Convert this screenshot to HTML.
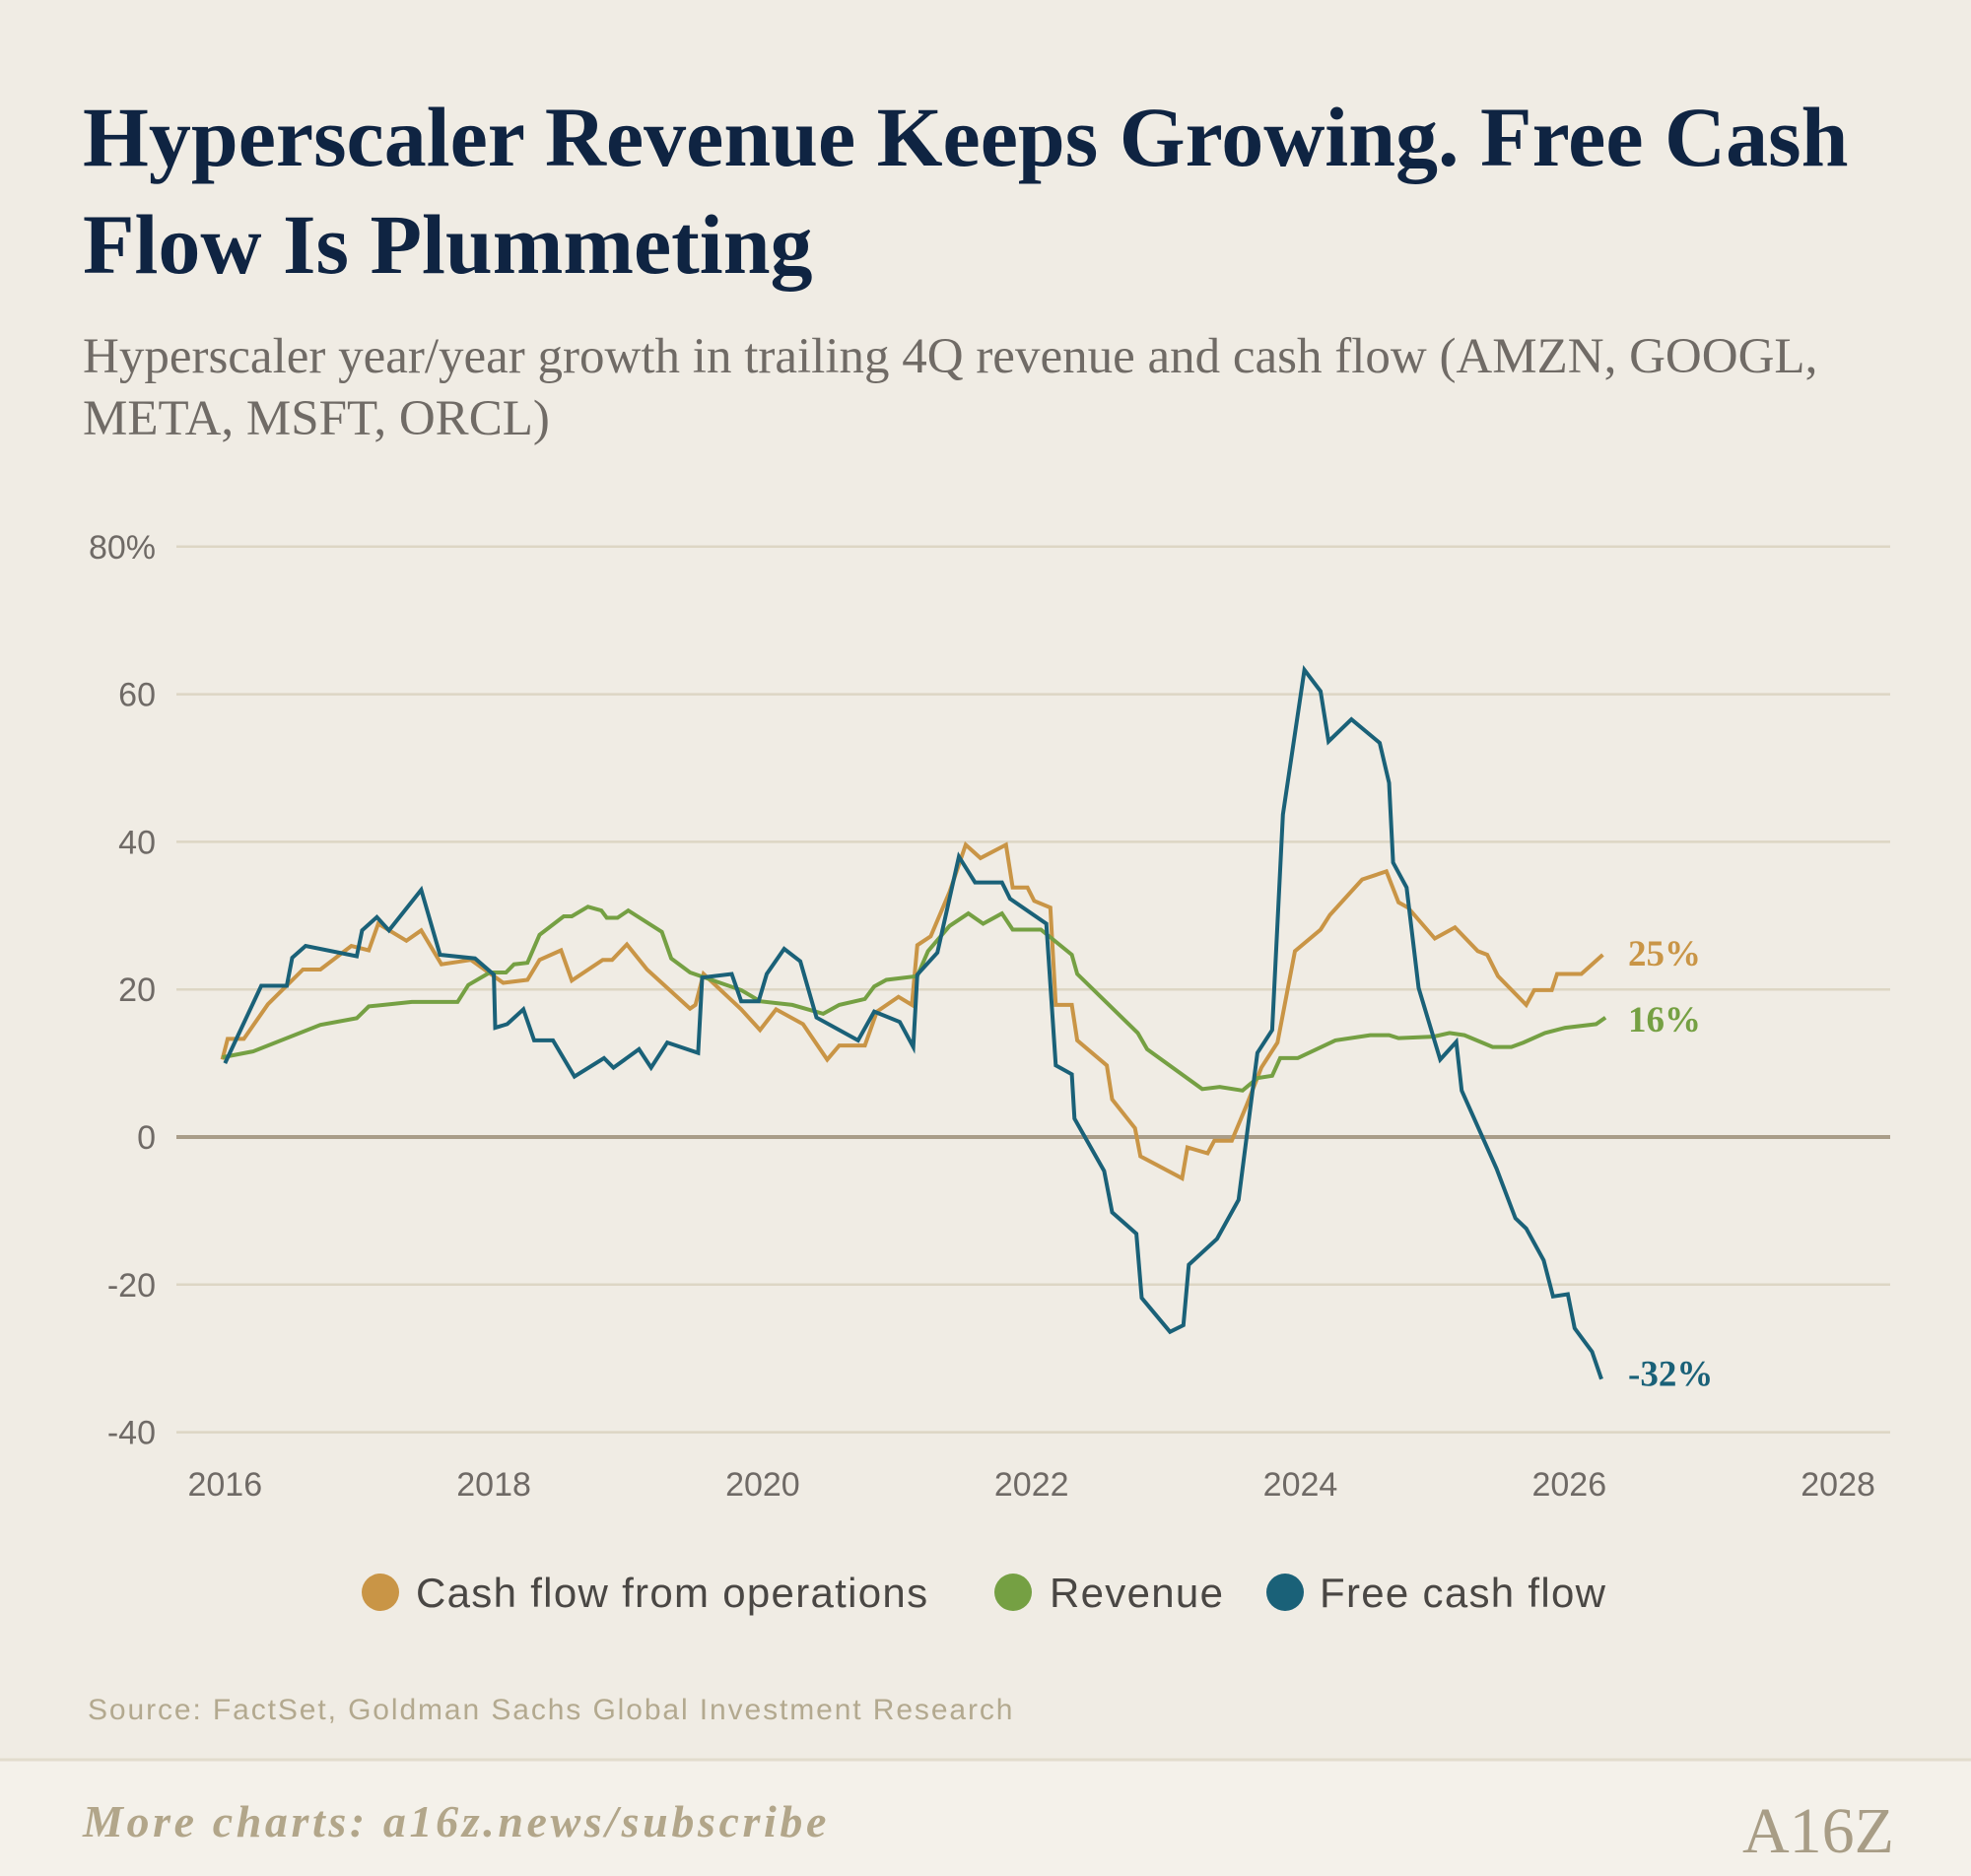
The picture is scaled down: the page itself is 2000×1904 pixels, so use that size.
<!DOCTYPE html>
<html><head><meta charset="utf-8">
<style>
html,body{margin:0;padding:0;background:#f0ece4;}
svg{display:block;}
</style></head>
<body>
<svg id="chart" width="2000" height="1904" viewBox="0 0 2000 1904" xmlns="http://www.w3.org/2000/svg">
<rect width="2000" height="1904" fill="#f0ece4"/>
<text x="84" y="168" font-family="Liberation Serif, serif" font-weight="bold" font-size="86" fill="#0f2442">Hyperscaler Revenue Keeps Growing. Free Cash</text>
<text x="84" y="277" font-family="Liberation Serif, serif" font-weight="bold" font-size="86" fill="#0f2442">Flow Is Plummeting</text>
<text x="84" y="378" font-family="Liberation Serif, serif" font-size="51" fill="#706b66">Hyperscaler year/year growth in trailing 4Q revenue and cash flow (AMZN, GOOGL,</text>
<text x="84" y="441" font-family="Liberation Serif, serif" font-size="51" fill="#706b66">META, MSFT, ORCL)</text>
<g id="grid"></g>
<g id="yticks"></g>
<g id="xticks"></g>
<g id="series"></g>
<g id="endlabels"></g>
<g font-family="Liberation Sans, sans-serif" font-size="42" letter-spacing="1.3" fill="#4a4744">
  <g><circle cx="386" cy="1616" r="19" fill="#c99546"/><text x="422" y="1631">Cash flow from operations</text></g>
  <g><circle cx="1028" cy="1616" r="19" fill="#75a043"/><text x="1065" y="1631">Revenue</text></g>
  <g><circle cx="1304" cy="1616" r="19" fill="#1a6178"/><text x="1339" y="1631">Free cash flow</text></g>
</g>
<text x="89" y="1745" font-family="Liberation Sans, sans-serif" font-size="30" letter-spacing="1.9" fill="#b3a98f">Source: FactSet, Goldman Sachs Global Investment Research</text>
<rect x="0" y="1786" width="2000" height="118" fill="#f4f1ea"/>
<line x1="0" y1="1786" x2="2000" y2="1786" stroke="#e2dccd" stroke-width="3"/>
<text x="84" y="1864" font-family="Liberation Serif, serif" font-style="italic" font-weight="bold" font-size="46" letter-spacing="3.6" fill="#b2a68a">More charts: a16z.news/subscribe</text>
<text x="1922" y="1880" text-anchor="end" font-family="Liberation Serif, serif" font-size="66" fill="#a89d86">A16Z</text>
</svg>
<script>
const years = [2016,2018,2020,2022,2024,2026,2028];
const yTicks = [80,60,40,20,0,-20,-40];
const yTickLabels = ["80%","60","40","20","0","-20","-40"];
const cfoT = [2015.98,2016.02,2016.14,2016.32,2016.58,2016.71,2016.94,2017.07,2017.14,2017.35,2017.46,2017.61,2017.83,2018.07,2018.25,2018.34,2018.5,2018.58,2018.81,2018.88,2018.99,2019.14,2019.46,2019.5,2019.56,2019.84,2019.98,2020.1,2020.3,2020.48,2020.57,2020.76,2020.85,2021.01,2021.11,2021.15,2021.25,2021.39,2021.51,2021.62,2021.81,2021.86,2021.97,2022.02,2022.14,2022.18,2022.3,2022.34,2022.56,2022.6,2022.77,2022.81,2023.12,2023.16,2023.31,2023.36,2023.49,2023.6,2023.71,2023.83,2023.96,2024.15,2024.22,2024.46,2024.64,2024.73,2024.8,2025.0,2025.15,2025.32,2025.39,2025.47,2025.68,2025.74,2025.87,2025.91,2026.09,2026.25];
const cfoV = [10.5,13.3,13.3,18,22.7,22.7,25.9,25.3,28.9,26.6,28,23.4,24,20.9,21.3,24,25.3,21.2,24,24,26.1,22.7,17.4,17.9,22.1,17.3,14.5,17.3,15.3,10.5,12.4,12.4,17,19,17.9,26,27.2,33.2,39.6,37.8,39.6,33.8,33.8,32,31.1,17.9,17.9,13.1,9.7,5.1,1.2,-2.6,-5.6,-1.4,-2.2,-0.5,-0.5,4.3,9.4,12.8,25.2,28.1,30.1,34.9,36,31.8,31.1,26.9,28.4,25.2,24.7,21.8,17.9,19.9,19.9,22.1,22.1,24.7];
const revT = [2015.98,2016.21,2016.71,2016.98,2017.07,2017.39,2017.73,2017.81,2017.97,2018.09,2018.15,2018.25,2018.34,2018.52,2018.58,2018.7,2018.8,2018.84,2018.92,2019.0,2019.25,2019.32,2019.46,2019.84,2019.98,2020.22,2020.45,2020.57,2020.76,2020.83,2020.92,2021.15,2021.23,2021.39,2021.53,2021.64,2021.78,2021.86,2022.07,2022.3,2022.34,2022.79,2022.86,2023.27,2023.4,2023.57,2023.68,2023.79,2023.85,2023.98,2024.26,2024.52,2024.66,2024.73,2024.99,2025.11,2025.22,2025.43,2025.57,2025.66,2025.82,2025.97,2026.2,2026.27];
const revV = [10.8,11.6,15.2,16.1,17.7,18.3,18.3,20.6,22.3,22.3,23.4,23.6,27.4,29.9,29.9,31.2,30.7,29.7,29.7,30.7,27.8,24.2,22.3,19.9,18.4,17.9,16.7,17.9,18.7,20.4,21.3,21.8,25.2,28.6,30.3,28.9,30.3,28.1,28.1,24.7,22.1,14.1,11.9,6.5,6.8,6.3,8,8.3,10.7,10.7,13.1,13.8,13.8,13.4,13.6,14.1,13.8,12.2,12.2,12.8,14.1,14.8,15.3,16.2];
const fcfT = [2016.0,2016.27,2016.46,2016.5,2016.6,2016.98,2017.02,2017.13,2017.22,2017.46,2017.6,2017.86,2018.0,2018.01,2018.1,2018.22,2018.3,2018.44,2018.6,2018.82,2018.89,2019.08,2019.17,2019.29,2019.52,2019.55,2019.77,2019.84,2019.97,2020.03,2020.16,2020.28,2020.4,2020.71,2020.83,2021.02,2021.12,2021.15,2021.3,2021.46,2021.58,2021.78,2021.84,2022.11,2022.18,2022.3,2022.32,2022.54,2022.6,2022.78,2022.82,2023.03,2023.13,2023.17,2023.38,2023.54,2023.68,2023.79,2023.87,2024.03,2024.15,2024.21,2024.38,2024.59,2024.66,2024.69,2024.79,2024.88,2025.04,2025.16,2025.2,2025.46,2025.6,2025.68,2025.81,2025.88,2025.99,2026.04,2026.17,2026.24];
const fcfV = [10,20.5,20.5,24.3,25.9,24.5,28,29.8,28,33.5,24.7,24.2,22,14.8,15.3,17.3,13.1,13.1,8.2,10.7,9.4,11.9,9.4,12.8,11.4,21.6,22.1,18.4,18.4,22.1,25.5,23.8,16.2,13.1,17,15.6,12.2,22,25,38,34.5,34.5,32.3,28.9,9.7,8.5,2.5,-4.6,-10.2,-13.1,-21.8,-26.4,-25.5,-17.3,-13.8,-8.5,11.4,14.5,43.7,63.3,60.4,53.6,56.6,53.4,48,37.2,33.8,20.2,10.5,12.9,6.3,-4.3,-11,-12.4,-16.7,-21.6,-21.3,-25.9,-29.1,-32.8];
const endLabels = ["25%","16%","-32%"];
const endValues = [25,16,-32];

const NS="http://www.w3.org/2000/svg";
function xS(t){return 228.3+136.4*(t-2016);}
function yS(v){return 1154-7.49*v;}
function mk(tag,attrs,parent){const e=document.createElementNS(NS,tag);for(const k in attrs)e.setAttribute(k,attrs[k]);parent.appendChild(e);return e;}
const grid=document.getElementById('grid'),yt=document.getElementById('yticks'),xt=document.getElementById('xticks'),ser=document.getElementById('series'),el=document.getElementById('endlabels');
yTicks.forEach((v,i)=>{
  const l=mk('line',{x1:179,x2:1918,y1:yS(v),y2:yS(v),stroke:v===0?'#a99d89':'#ddd6c4','stroke-width':v===0?4:2.5},grid);
  
  
  const t=mk('text',{x:158,y:yS(v)+12,'text-anchor':'end','font-family':'Liberation Sans, sans-serif','font-size':34,fill:'#6f6a66'},yt);
  t.textContent=yTickLabels[i];
  
  
});
years.forEach(y=>{
  const t=mk('text',{x:xS(y),y:1518,'text-anchor':'middle','font-family':'Liberation Sans, sans-serif','font-size':34,fill:'#6f6a66'},xt);
  t.textContent=y;
  
  
});
const defs=[[cfoT,cfoV,'#c99546','cfo-line'],[revT,revV,'#75a043','revenue-line'],[fcfT,fcfV,'#1a6178','free-cash-flow-line']];
defs.forEach(([T,V,c,n])=>{
  const d=T.map((t,i)=>(i?'L':'M')+xS(t).toFixed(1)+','+yS(V[i]).toFixed(1)).join('');
  const p=mk('path',{d:d,fill:'none',stroke:c,'stroke-width':4,'stroke-linejoin':'miter'},ser);
  
  
});
const cols=['#c99546','#75a043','#1a6178'];
endLabels.forEach((s,i)=>{
  const t=mk('text',{x:1652,y:yS(endValues[i])+13,'font-family':'Liberation Serif, serif','font-weight':'bold','font-size':37,fill:cols[i]},el);
  t.textContent=s;
  
  
});
</script>
</body></html>
